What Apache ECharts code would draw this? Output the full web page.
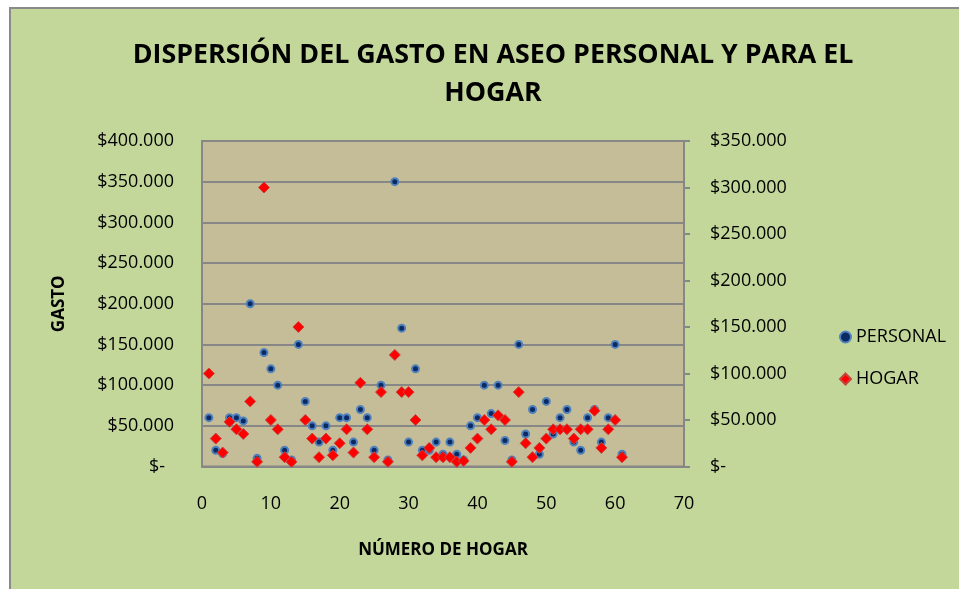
<!DOCTYPE html>
<html>
<head>
<meta charset="utf-8">
<script src="https://cdn.jsdelivr.net/npm/echarts@6/dist/echarts.min.js"></script>
<style>
  html, body { margin: 0; padding: 0; background: #ffffff; }
  #frame { position: absolute; left: 9px; top: 7px; width: 1000px; height: 650px;
           background: #C4D79B; border: 2px solid #8a8a8a; }
  #chart { position: absolute; left: 0; top: 0; width: 959px; height: 589px; }
</style>
</head>
<body>
<div id="frame"></div>
<div id="chart"></div>
<script>
// Household numbers (x)
const households = [1,2,3,4,5,6,7,8,9,10,11,12,13,14,15,16,17,18,19,20,21,22,23,24,25,26,27,28,29,30,31,32,33,34,35,36,37,38,39,40,41,42,43,44,45,46,47,48,49,50,51,52,53,54,55,56,57,58,59,60,61];
// PERSONAL spending (left axis)
const personal = [60000,20000,16000,60000,60000,56000,200000,10000,140000,120000,100000,20000,8000,150000,80000,50000,30000,50000,20000,60000,60000,30000,70000,60000,20000,100000,8000,350000,170000,30000,120000,20000,20000,30000,15000,30000,15000,8000,50000,60000,100000,65000,100000,32000,8000,150000,40000,70000,15000,80000,40000,60000,70000,30000,20000,60000,70000,30000,60000,150000,15000];
// HOGAR spending (right axis)
const hogar = [100000,30000,15000,48000,40000,35000,70000,5000,300000,50000,40000,10000,5000,150000,50000,30000,10000,30000,12000,25000,40000,15000,90000,40000,10000,80000,5000,120000,80000,80000,50000,12000,20000,10000,10000,10000,5000,6000,20000,30000,50000,40000,55000,50000,5000,80000,25000,10000,20000,30000,40000,40000,40000,30000,40000,40000,60000,20000,40000,50000,10000];
// Axis ticks
const xTicks = [0,10,20,30,40,50,60,70];
const leftMax = 400000, rightMax = 350000, yStep = 50000;

const FONT = 'Open Sans';
function money(v) {
  if (v === 0) return '{z|$-}';
  return '$' + String(v).replace(/\B(?=(\d{3})+(?!\d))/g, '.');
}

const chart = echarts.init(document.getElementById('chart'), null, { renderer: 'canvas' });
chart.setOption({
  backgroundColor: 'transparent',
  animation: false,
  title: {
    text: 'DISPERSIÓN DEL GASTO EN ASEO PERSONAL Y PARA EL\nHOGAR',
    left: 488, top: 31, textAlign: 'center',
    textStyle: { fontFamily: FONT, fontWeight: 'bold', fontSize: 26.8, lineHeight: 38, color: '#000' }
  },
  legend: {
    orient: 'vertical', left: 834, top: 322, itemGap: 22,
    itemWidth: 11, itemHeight: 11,
    textStyle: { fontFamily: FONT, fontSize: 18, color: '#000', lineHeight: 20 },
    data: ['PERSONAL', 'HOGAR']
  },
  grid: {
    left: 202, top: 141, width: 482, height: 325.5,
    show: true, backgroundColor: '#C4BD97', borderColor: '#878787', borderWidth: 2
  },
  xAxis: {
    type: 'value', min: xTicks[0], max: xTicks[xTicks.length - 1], interval: 10,
    name: 'NÚMERO DE HOGAR', nameLocation: 'middle', nameGap: 75,
    nameTextStyle: { fontFamily: FONT, fontWeight: 'bold', fontSize: 17, color: '#000' },
    axisLine: { show: true, lineStyle: { color: '#878787', width: 2 } },
    axisTick: { show: false },
    splitLine: { show: false },
    axisLabel: { fontFamily: FONT, fontSize: 18, color: '#000', margin: 28 }
  },
  yAxis: [
    {
      type: 'value', min: 0, max: leftMax, interval: yStep, position: 'left',
      name: 'GASTO', nameLocation: 'middle', nameGap: 134, nameRotate: 90,
      nameTextStyle: { fontFamily: FONT, fontWeight: 'bold', fontSize: 17, color: '#000' },
      axisLine: { show: true, lineStyle: { color: '#878787', width: 2 } },
      axisTick: { show: false },
      splitLine: { show: true, lineStyle: { color: '#878787', width: 2 } },
      axisLabel: { fontFamily: FONT, fontSize: 18, color: '#000', margin: 28,
        formatter: money, rich: { z: { fontFamily: FONT, fontSize: 18, color: '#000', padding: [0, 9, 0, 0] } } }
    },
    {
      type: 'value', min: 0, max: rightMax, interval: yStep, position: 'right',
      axisLine: { show: true, lineStyle: { color: '#878787', width: 2 } },
      axisTick: { show: true, inside: false, length: 6, lineStyle: { color: '#878787', width: 2 } },
      splitLine: { show: false },
      axisLabel: { fontFamily: FONT, fontSize: 18, color: '#000', margin: 26,
        formatter: money, rich: { z: { fontFamily: FONT, fontSize: 18, color: '#000' } } }
    }
  ],
  series: [
    {
      name: 'PERSONAL', type: 'scatter', yAxisIndex: 0,
      symbol: 'circle', symbolSize: 7,
      itemStyle: { color: '#0B2a63', borderColor: '#4F81BD', borderWidth: 2, opacity: 1 },
      data: households.map((h, i) => [h, personal[i]])
    },
    {
      name: 'HOGAR', type: 'scatter', yAxisIndex: 1,
      symbol: 'diamond', symbolSize: 11,
      itemStyle: { color: '#FF0000', borderColor: '#C8443F', borderWidth: 1, opacity: 1 },
      data: households.map((h, i) => [h, hogar[i]])
    }
  ]
});
</script>
</body>
</html>
